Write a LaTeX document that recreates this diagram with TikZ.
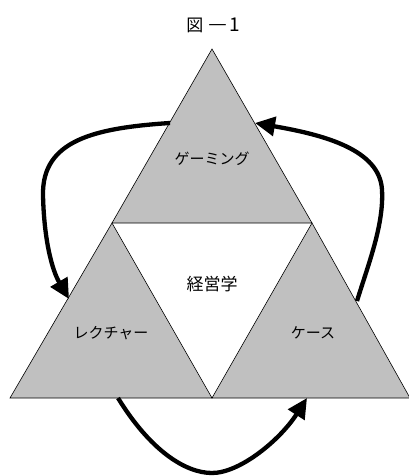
\documentclass[tikz,border=0pt]{standalone}
\usepackage{fontspec}
\newfontfamily\jpfont{Noto Sans CJK JP}
\usetikzlibrary{arrows.meta}
\definecolor{tri}{RGB}{192,192,192}
\tikzset{
  tribox/.style={draw=black, line width=0.6pt, fill=tri, line join=miter},
  lbl/.style={font=\jpfont\fontsize{15}{17}\selectfont, inner sep=0pt},
  flow/.style={line width=4.3pt, -{Triangle[length=20pt,width=19pt]}}
}
\begin{document}
\begin{tikzpicture}[x=1pt,y=-1pt]
\useasboundingbox (0,0) rectangle (409,476);
% vertices
\coordinate (A) at (212,49);
\coordinate (ML) at (112,223);
\coordinate (MR) at (312,223);
\coordinate (BL) at (10,398);
\coordinate (BC) at (212,398);
\coordinate (BR) at (410,398);
% triangles
\draw[tribox] (A) -- (MR) -- (ML) -- cycle;
\draw[tribox] (ML) -- (BC) -- (BL) -- cycle;
\draw[tribox] (MR) -- (BR) -- (BC) -- cycle;
% labels
\node[font=\jpfont\fontsize{17}{19}\selectfont, inner sep=0pt] (title) at (213,25)
  {図\,\scalebox{1.35}[1]{－}{\fontsize{19}{20}\selectfont 1}};
\node[lbl] (game) at (212,159) {ゲーミング};
\node[lbl, font=\jpfont\fontsize{17}{19}\selectfont] (mgmt) at (212,284) {経営学};
\node[lbl] (lect) at (111,333) {レクチャー};
\node[lbl] (case) at (313,333) {ケース};
% arrow end points
\coordinate (a1s) at (170,123);
\coordinate (a1e) at (69,299);
\coordinate (a2s) at (357,301);
\coordinate (a2e) at (255,123);
\coordinate (a3s) at (118,398);
\coordinate (a3e) at (307,398);
% arrows
\draw[flow] (a1s) .. controls (95,128) and (42,140) .. (43,195)
  .. controls (44,240) and (52,270) .. (a1e);
\draw[flow] (a2s) .. controls (368,265) and (384,225) .. (382,190)
  .. controls (380,150) and (325,135) .. (a2e);
\draw[flow] (a3s) .. controls (150,450) and (185,473) .. (212,473)
  .. controls (240,473) and (280,440) .. (a3e);
\end{tikzpicture}
\end{document}
